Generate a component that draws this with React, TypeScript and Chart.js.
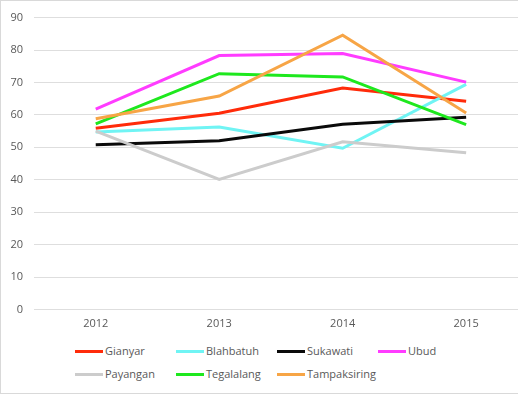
import React, { useEffect, useRef } from "react";
import { Chart, registerables } from "chart.js";

Chart.register(...registerables);

const years = [2012, 2013, 2014, 2015];
const yTicks = [0, 10, 20, 30, 40, 50, 60, 70, 80, 90];
const seriesNames = ["Gianyar", "Blahbatuh", "Sukawati", "Ubud", "Payangan", "Tegalalang", "Tampaksiring"];
const gianyar = [55.9, 60.5, 68.3, 64.2];
const blahbatuh = [54.7, 56.3, 49.7, 69.4];
const sukawati = [50.8, 52.0, 57.1, 59.3];
const ubud = [61.8, 78.3, 78.9, 70.1];
const payangan = [55.0, 40.1, 51.7, 48.3];
const tegalalang = [57.2, 72.7, 71.7, 57.0];
const tampaksiring = [58.8, 65.8, 84.6, 60.6];
const seriesValues = [gianyar, blahbatuh, sukawati, ubud, payangan, tegalalang, tampaksiring];
const seriesColors = ["#ff2b0a", "#70f4f4", "#0a0a0a", "#ff3cff", "#cccccc", "#1ee81e", "#f7a546"];

const FONT = "'Open Sans', sans-serif";

export default function App() {
  const ref = useRef<HTMLCanvasElement | null>(null);
  useEffect(() => {
    if (!ref.current) return;
    const n = seriesNames.length;
    const chart = new Chart(ref.current, {
      type: "line",
      data: {
        datasets: seriesNames.map((name, i) => ({
          label: name,
          data: years.map((x, j) => ({ x, y: seriesValues[i][j] })),
          borderColor: seriesColors[i],
          backgroundColor: seriesColors[i],
          borderWidth: 3,
          pointRadius: 0,
          tension: 0,
          fill: false,
          order: n - i,
        })),
      },
      options: {
        animation: false,
        responsive: false,
        maintainAspectRatio: false,
        layout: { padding: { top: 17.3, right: 0, left: 0, bottom: 0 } },
        plugins: { legend: { display: false }, tooltip: { enabled: false } },
        scales: {
          x: {
            type: "linear",
            min: 2011.5,
            max: 2015.42,
            afterBuildTicks: (s: any) => {
              s.ticks = years.map((v) => ({ value: v }));
            },
            afterFit: (s: any) => {
              s.height = 30.5;
            },
            grid: { display: false, drawTicks: false },
            border: { display: false },
            ticks: {
              padding: 8,
              color: "#595959",
              font: { family: FONT, size: 11 },
              callback: (v: any) => String(v),
              maxRotation: 0,
            },
          },
          y: {
            min: 0,
            max: 90,
            afterBuildTicks: (s: any) => {
              s.ticks = yTicks.map((v) => ({ value: v }));
            },
            afterFit: (s: any) => {
              s.width = 33;
            },
            grid: { color: "#dedede", lineWidth: 1, drawTicks: false },
            border: { display: false },
            ticks: {
              padding: 11,
              color: "#595959",
              font: { family: FONT, size: 11 },
            },
          },
        },
      },
    });
    return () => chart.destroy();
  }, []);

  const colX = [75, 176, 277, 378];
  const rowY = [351, 374];

  return (
    <div
      style={{
        position: "fixed",
        left: 0,
        top: 0,
        width: 530,
        height: 392,
        border: "1px solid #d9d9d9",
        background: "#fff",
        overflow: "hidden",
        fontFamily: FONT,
      }}
    >
      <canvas ref={ref} width={517} height={340} style={{ position: "absolute", left: 0, top: -1, width: 517, height: 340 }} />
      {seriesNames.map((name, i) => {
        const col = i < 4 ? i : i - 4;
        const row = i < 4 ? 0 : 1;
        return (
          <div
            key={name}
            style={{
              position: "absolute",
              left: colX[col] - 1,
              top: rowY[row] - 1 - 10,
              height: 20,
              display: "flex",
              alignItems: "center",
              whiteSpace: "nowrap",
            }}
          >
            <div style={{ width: 28, height: 3, background: seriesColors[i], marginRight: 2 }} />
            <span style={{ fontSize: 11, color: "#595959", lineHeight: "20px" }}>{name}</span>
          </div>
        );
      })}
    </div>
  );
}
